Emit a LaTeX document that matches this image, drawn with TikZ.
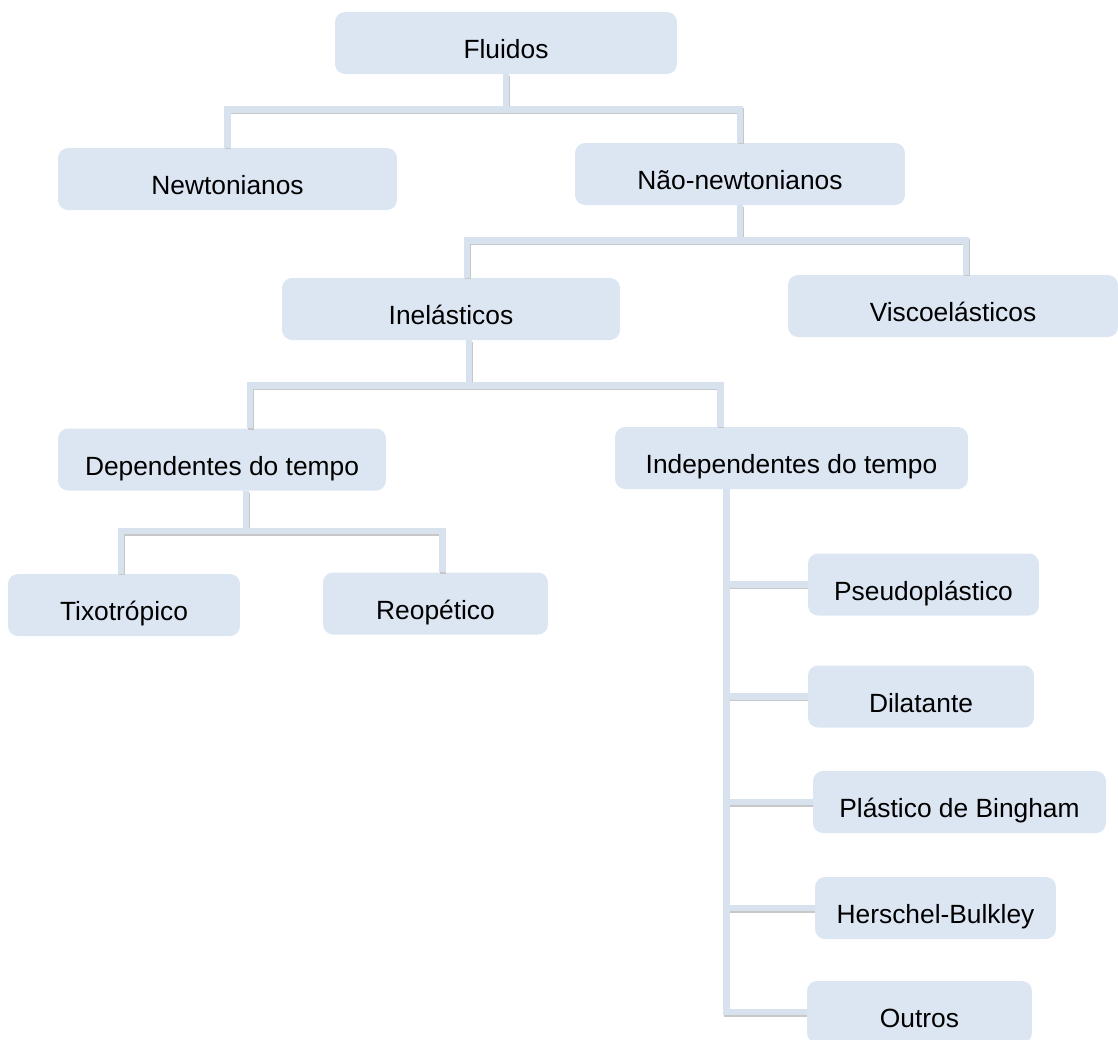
\documentclass[tikz,border=0pt]{standalone}
\usepackage{fontspec}
\setmainfont{Liberation Sans}
\usetikzlibrary{positioning, calc}
\definecolor{BoxBlue}{HTML}{DCE6F2}
\definecolor{LinkBlue}{HTML}{D8E2EF}

\begin{document}
\begin{tikzpicture}[x=0.02cm, y=-0.02cm,
  box/.style={rectangle, rounded corners=0.2cm, fill=BoxBlue, align=center,
              font=\fontsize{15}{18}\selectfont, inner sep=0pt,
              text height=18pt, text depth=0pt, minimum height=1.24cm},
  link/.style={draw=LinkBlue, line width=3.6pt,
               preaction={draw=black!22, line width=3.6pt,
                          transform canvas={shift={(0.4pt,-1pt)}}}}
]
\useasboundingbox (0,0) rectangle (1118,1039);

\node[box, minimum width=6.84cm] (flu)   at (506,43)    {Fluidos};
\node[box, minimum width=6.78cm] (newt)  at (227.5,179) {Newtonianos};
\node[box, minimum width=6.60cm] (nnewt) at (740,174)   {Não-newtonianos};
\node[box, minimum width=6.76cm] (inel)  at (451,309)   {Inelásticos};
\node[box, minimum width=6.60cm] (visc)  at (953,306)   {Viscoelásticos};
\node[box, minimum width=6.56cm] (dep)   at (222,459.5) {Dependentes do tempo};
\node[box, minimum width=7.06cm] (ind)   at (791.5,458) {Independentes do tempo};
\node[box, minimum width=4.64cm] (tix)   at (124,605)   {Tixotrópico};
\node[box, minimum width=4.50cm] (reo)   at (435.5,603.5) {Reopético};
\node[box, minimum width=4.62cm] (pse)   at (923.5,584.5) {Pseudoplástico};
\node[box, minimum width=4.52cm] (dil)   at (921,696.5) {Dilatante};
\node[box, minimum width=5.86cm] (bin)   at (959.5,802) {Plástico de Bingham};
\node[box, minimum width=4.82cm] (her)   at (935.5,908) {Herschel-Bulkley};
\node[box, minimum width=4.50cm] (out)   at (919.5,1012) {Outros};

% Fluidos
\draw[link] (flu.south) -- ++(0,35) -| (newt.north);
\draw[link] (flu.south) -- ++(0,35) -| (nnewt.north);
% Nao-newtonianos
\draw[link] (nnewt.south) -- ++(0,35) -| ($(inel.north)+(16,0)$);
\draw[link] (nnewt.south) -- ++(0,35) -| ($(visc.north)+(13,0)$);
% Inelasticos
\draw[link] ($(inel.south)+(18,0)$) -- ++(0,45) -| ($(dep.north)+(28,0)$);
\draw[link] ($(inel.south)+(18,0)$) -- ++(0,45) -| ($(ind.north)+(-71,0)$);
% Dependentes do tempo
\draw[link] ($(dep.south)+(24,0)$) -- ++(0,40) -| ($(tix.north)+(-3,0)$);
\draw[link] ($(dep.south)+(24,0)$) -- ++(0,40) -| ($(reo.north)+(7,0)$);
% Independentes do tempo
\coordinate (spine) at ($(ind.south)+(-65,0)$);
\foreach \n in {pse, dil, bin, her, out}
  \draw[link] (spine) |- (\n.west);
\end{tikzpicture}
\end{document}
